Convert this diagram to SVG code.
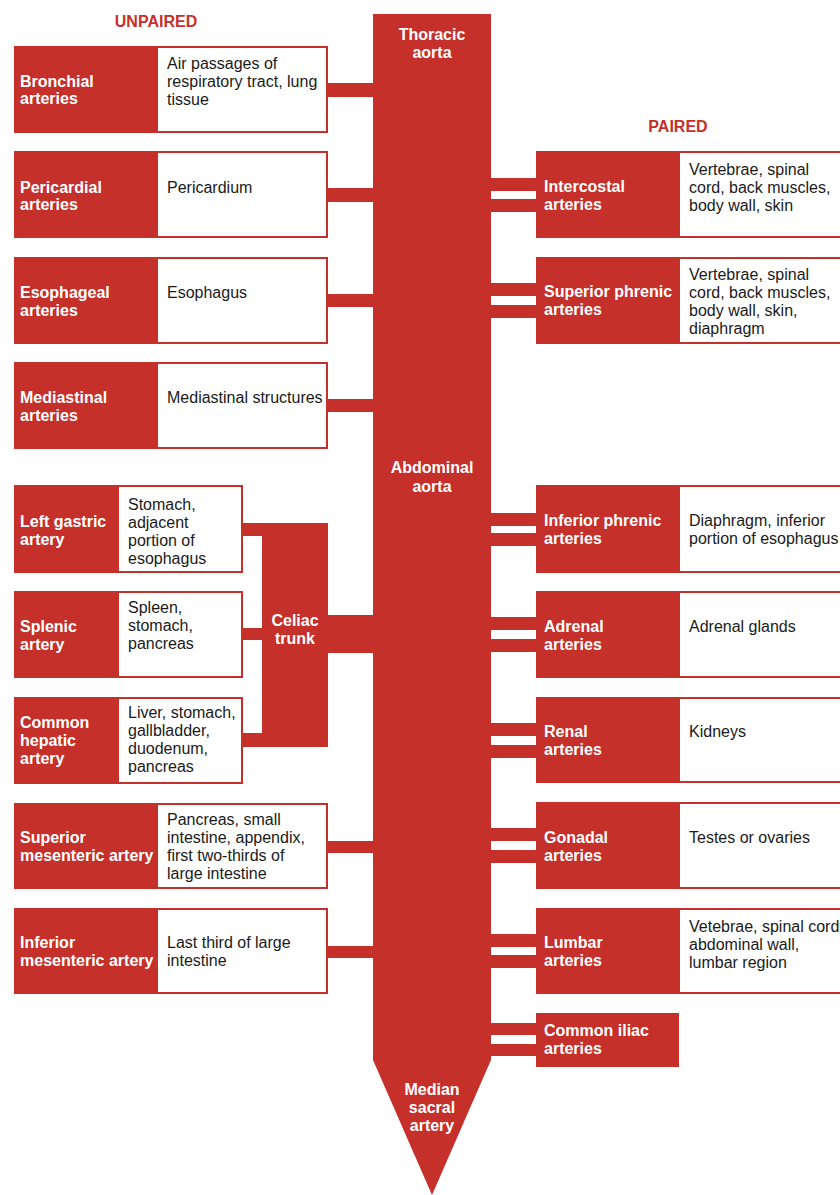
<svg xmlns="http://www.w3.org/2000/svg" width="840" height="1195" viewBox="0 0 840 1195">
<style>
  text { font-family: "Liberation Sans", Arial, Helvetica, sans-serif; font-size: 16px; }
  .red { fill: #c5302a; }
  .box { fill: #ffffff; stroke: #c5302a; stroke-width: 2; }
  .lbl { fill: #ffffff; font-weight: bold; }
  .dsc { fill: #1a1a1a; }
  .hd { fill: #c5302a; font-weight: bold; }
  .ctr { text-anchor: middle; }
</style>
<rect width="840" height="1195" fill="#ffffff"/>

<text class="hd ctr" x="156" y="27">UNPAIRED</text>
<text class="hd ctr" x="678" y="132">PAIRED</text>

<g id="connectors" class="red">
  <!-- left unpaired -->
  <rect x="327" y="83" width="47" height="14"/>
  <rect x="327" y="188" width="47" height="14"/>
  <rect x="327" y="294" width="47" height="13"/>
  <rect x="327" y="399" width="47" height="13"/>
  <rect x="327" y="841" width="47" height="12"/>
  <rect x="327" y="946" width="47" height="12"/>
  <!-- celiac -->
  <rect x="242" y="523" width="21" height="13"/>
  <rect x="242" y="628" width="21" height="12"/>
  <rect x="242" y="733" width="21" height="14"/>
  <rect x="327" y="615" width="47" height="38"/>
  <!-- right paired (double bars) -->
  <rect x="490" y="178" width="47" height="13"/><rect x="490" y="199" width="47" height="13"/>
  <rect x="490" y="283" width="47" height="13"/><rect x="490" y="305" width="47" height="13"/>
  <rect x="490" y="513" width="47" height="13"/><rect x="490" y="533" width="47" height="13"/>
  <rect x="490" y="617" width="47" height="13"/><rect x="490" y="639" width="47" height="13"/>
  <rect x="490" y="723" width="47" height="13"/><rect x="490" y="745" width="47" height="13"/>
  <rect x="490" y="828" width="47" height="13"/><rect x="490" y="850" width="47" height="13"/>
  <rect x="490" y="934" width="47" height="13"/><rect x="490" y="955" width="47" height="13"/>
  <rect x="490" y="1023" width="47" height="12"/><rect x="490" y="1044" width="47" height="12"/>
</g>

<g id="aorta">
  <path class="red" d="M373,14 H491 V1060 L432,1195 L373,1060 Z"/>
  <text class="lbl ctr" x="432" y="40">Thoracic</text>
  <text class="lbl ctr" x="432" y="58">aorta</text>
  <text class="lbl ctr" x="432" y="473">Abdominal</text>
  <text class="lbl ctr" x="432" y="492">aorta</text>
  <text class="lbl ctr" x="432" y="1095">Median</text>
  <text class="lbl ctr" x="432" y="1113">sacral</text>
  <text class="lbl ctr" x="432" y="1131">artery</text>
</g>

<g id="celiac-trunk">
  <rect class="red" x="262" y="523" width="66" height="224"/>
  <text class="lbl ctr" x="295" y="626">Celiac</text>
  <text class="lbl ctr" x="295" y="644">trunk</text>
</g>

<!-- Unpaired, left -->
<g id="bronchial">
  <rect class="box" x="15" y="47" width="312" height="85"/>
  <rect class="red" x="14" y="46" width="144" height="87"/>
  <text class="lbl" x="20" y="87">Bronchial</text>
  <text class="lbl" x="20" y="104">arteries</text>
  <text class="dsc" x="167" y="69">Air passages of</text>
  <text class="dsc" x="167" y="87">respiratory tract, lung</text>
  <text class="dsc" x="167" y="105">tissue</text>
</g>
<g id="pericardial">
  <rect class="box" x="15" y="152" width="312" height="85"/>
  <rect class="red" x="14" y="151" width="144" height="87"/>
  <text class="lbl" x="20" y="193">Pericardial</text>
  <text class="lbl" x="20" y="210">arteries</text>
  <text class="dsc" x="167" y="193">Pericardium</text>
</g>
<g id="esophageal">
  <rect class="box" x="15" y="258" width="312" height="85"/>
  <rect class="red" x="14" y="257" width="144" height="87"/>
  <text class="lbl" x="20" y="298">Esophageal</text>
  <text class="lbl" x="20" y="316">arteries</text>
  <text class="dsc" x="167" y="298">Esophagus</text>
</g>
<g id="mediastinal">
  <rect class="box" x="15" y="363" width="312" height="85"/>
  <rect class="red" x="14" y="362" width="144" height="87"/>
  <text class="lbl" x="20" y="403">Mediastinal</text>
  <text class="lbl" x="20" y="421">arteries</text>
  <text class="dsc" x="167" y="403">Mediastinal structures</text>
</g>
<g id="left-gastric">
  <rect class="box" x="15" y="486" width="227" height="86"/>
  <rect class="red" x="14" y="485" width="105" height="88"/>
  <text class="lbl" x="20" y="527">Left gastric</text>
  <text class="lbl" x="20" y="545">artery</text>
  <text class="dsc" x="128" y="510">Stomach,</text>
  <text class="dsc" x="128" y="528">adjacent</text>
  <text class="dsc" x="128" y="546">portion of</text>
  <text class="dsc" x="128" y="564">esophagus</text>
</g>
<g id="splenic">
  <rect class="box" x="15" y="592" width="227" height="85"/>
  <rect class="red" x="14" y="591" width="105" height="87"/>
  <text class="lbl" x="20" y="632">Splenic</text>
  <text class="lbl" x="20" y="650">artery</text>
  <text class="dsc" x="128" y="613">Spleen,</text>
  <text class="dsc" x="128" y="631">stomach,</text>
  <text class="dsc" x="128" y="649">pancreas</text>
</g>
<g id="common-hepatic">
  <rect class="box" x="15" y="698" width="227" height="85"/>
  <rect class="red" x="14" y="697" width="105" height="87"/>
  <text class="lbl" x="20" y="728">Common</text>
  <text class="lbl" x="20" y="746">hepatic</text>
  <text class="lbl" x="20" y="764">artery</text>
  <text class="dsc" x="128" y="718">Liver, stomach,</text>
  <text class="dsc" x="128" y="736">gallbladder,</text>
  <text class="dsc" x="128" y="754">duodenum,</text>
  <text class="dsc" x="128" y="772">pancreas</text>
</g>
<g id="superior-mesenteric">
  <rect class="box" x="15" y="804" width="312" height="84"/>
  <rect class="red" x="14" y="803" width="144" height="86"/>
  <text class="lbl" x="20" y="843">Superior</text>
  <text class="lbl" x="20" y="861">mesenteric artery</text>
  <text class="dsc" x="167" y="825">Pancreas, small</text>
  <text class="dsc" x="167" y="843">intestine, appendix,</text>
  <text class="dsc" x="167" y="861">first two-thirds of</text>
  <text class="dsc" x="167" y="879">large intestine</text>
</g>
<g id="inferior-mesenteric">
  <rect class="box" x="15" y="909" width="312" height="84"/>
  <rect class="red" x="14" y="908" width="144" height="86"/>
  <text class="lbl" x="20" y="948">Inferior</text>
  <text class="lbl" x="20" y="966">mesenteric artery</text>
  <text class="dsc" x="167" y="948">Last third of large</text>
  <text class="dsc" x="167" y="966">intestine</text>
</g>

<!-- Paired, right -->
<g id="intercostal">
  <rect class="box" x="537" y="152" width="310" height="85"/>
  <rect class="red" x="536" y="151" width="144" height="87"/>
  <text class="lbl" x="544" y="192">Intercostal</text>
  <text class="lbl" x="544" y="210">arteries</text>
  <text class="dsc" x="689" y="175">Vertebrae, spinal</text>
  <text class="dsc" x="689" y="193">cord, back muscles,</text>
  <text class="dsc" x="689" y="211">body wall, skin</text>
</g>
<g id="superior-phrenic">
  <rect class="box" x="537" y="258" width="310" height="85"/>
  <rect class="red" x="536" y="257" width="144" height="87"/>
  <text class="lbl" x="544" y="297">Superior phrenic</text>
  <text class="lbl" x="544" y="315">arteries</text>
  <text class="dsc" x="689" y="280">Vertebrae, spinal</text>
  <text class="dsc" x="689" y="298">cord, back muscles,</text>
  <text class="dsc" x="689" y="316">body wall, skin,</text>
  <text class="dsc" x="689" y="334">diaphragm</text>
</g>
<g id="inferior-phrenic">
  <rect class="box" x="537" y="486" width="310" height="86"/>
  <rect class="red" x="536" y="485" width="144" height="88"/>
  <text class="lbl" x="544" y="526">Inferior phrenic</text>
  <text class="lbl" x="544" y="544">arteries</text>
  <text class="dsc" x="689" y="526">Diaphragm, inferior</text>
  <text class="dsc" x="689" y="544">portion of esophagus</text>
</g>
<g id="adrenal">
  <rect class="box" x="537" y="592" width="310" height="85"/>
  <rect class="red" x="536" y="591" width="144" height="87"/>
  <text class="lbl" x="544" y="632">Adrenal</text>
  <text class="lbl" x="544" y="650">arteries</text>
  <text class="dsc" x="689" y="632">Adrenal glands</text>
</g>
<g id="renal">
  <rect class="box" x="537" y="698" width="310" height="84"/>
  <rect class="red" x="536" y="697" width="144" height="86"/>
  <text class="lbl" x="544" y="737">Renal</text>
  <text class="lbl" x="544" y="755">arteries</text>
  <text class="dsc" x="689" y="737">Kidneys</text>
</g>
<g id="gonadal">
  <rect class="box" x="537" y="803" width="310" height="85"/>
  <rect class="red" x="536" y="802" width="144" height="87"/>
  <text class="lbl" x="544" y="843">Gonadal</text>
  <text class="lbl" x="544" y="861">arteries</text>
  <text class="dsc" x="689" y="843">Testes or ovaries</text>
</g>
<g id="lumbar">
  <rect class="box" x="537" y="909" width="310" height="84"/>
  <rect class="red" x="536" y="908" width="144" height="86"/>
  <text class="lbl" x="544" y="948">Lumbar</text>
  <text class="lbl" x="544" y="966">arteries</text>
  <text class="dsc" x="689" y="932">Vetebrae, spinal cord</text>
  <text class="dsc" x="689" y="950">abdominal wall,</text>
  <text class="dsc" x="689" y="968">lumbar region</text>
</g>
<g id="common-iliac">
  <rect class="red" x="536" y="1013" width="143" height="54"/>
  <text class="lbl" x="544" y="1036">Common iliac</text>
  <text class="lbl" x="544" y="1054">arteries</text>
</g>
</svg>
